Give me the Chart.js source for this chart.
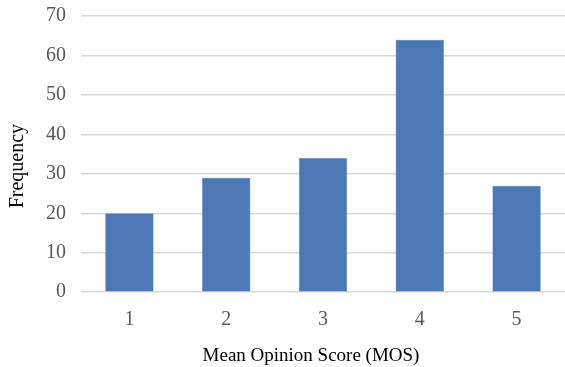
<!DOCTYPE html>
<html>
<head>
<meta charset="utf-8">
<script src="https://cdn.jsdelivr.net/npm/chart.js@4"></script>
<style>
html,body{margin:0;padding:0;background:#fff;}
#wrap{width:565px;height:367px;}
</style>
</head>
<body>
<div id="wrap"><canvas id="c" width="565" height="367"></canvas></div>
<script>
const categories = ["1", "2", "3", "4", "5"];
const frequency = [20, 29, 34, 64, 27];
const yTicks = [0, 10, 20, 30, 40, 50, 60, 70];

const serif = "'Liberation Serif', 'Times New Roman', serif";

// shift axis titles slightly along their axes (reference titles are not centred on the plot area)
const titleShift = {
  id: 'titleShift',
  beforeDraw(chart) {
    const shifts = { x: [-12, 0], y: [0, 12] };
    Object.keys(shifts).forEach(id => {
      const s = chart.scales[id];
      if (!s || s._shiftPatched) return;
      const orig = s.drawTitle.bind(s);
      s.drawTitle = function () {
        const ctx = this.ctx;
        ctx.save();
        ctx.translate(shifts[id][0], shifts[id][1]);
        orig();
        ctx.restore();
      };
      s._shiftPatched = true;
    });
  }
};

new Chart(document.getElementById('c'), {
  type: 'bar',
  data: {
    labels: categories,
    datasets: [{
      data: frequency,
      backgroundColor: '#4a79b6',
      borderColor: '#5b88c2',
      borderWidth: 0.5,
      barPercentage: 0.5,
      categoryPercentage: 1.0
    }]
  },
  options: {
    responsive: false,
    animation: false,
    layout: { padding: { top: 16, right: 0, left: 6, bottom: 0 } },
    plugins: { legend: { display: false }, tooltip: { enabled: false } },
    scales: {
      x: {
        grid: { display: false, drawTicks: false },
        border: { display: false },
        ticks: { color: '#595959', font: { family: serif, size: 20 }, padding: 16 },
        title: { display: true, text: 'Mean Opinion Score (MOS)', color: '#000', font: { family: serif, size: 19 }, padding: { top: -4, bottom: 0 } }
      },
      y: {
        min: 0, max: 70,
        afterBuildTicks: (axis) => { axis.ticks = yTicks.map(v => ({ value: v })); },
        afterFit: (axis) => { axis.paddingTop = 0; },
        grid: { color: '#d9d9d9', lineWidth: 1.5, drawTicks: false },
        border: { display: false },
        ticks: { color: '#595959', font: { family: serif, size: 20 }, padding: 15 },
        title: { display: true, text: 'Frequency', color: '#000', font: { family: serif, size: 20 }, padding: { top: 0, bottom: 1 } }
      }
    }
  },
  plugins: [titleShift]
});
</script>
</body>
</html>
